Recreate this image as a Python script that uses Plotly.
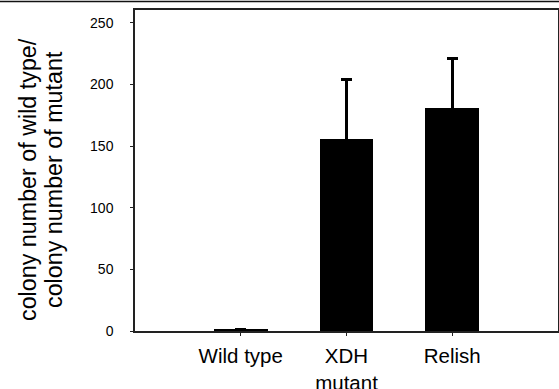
import plotly.graph_objects as go

categories = ["Wild type", "XDH<br>mutant", "Relish"]
values = [1, 156, 181]
err_plus = [0.5, 48, 40]
y_ticks = [0, 50, 100, 150, 200, 250]
title_lines = ["colony number of wild type/", "colony number of mutant"]

L, R, T, B = 135, 1, 10, 58
W, H = 559, 389
pw, ph = W - L - R, H - T - B

fig = go.Figure()
fig.add_trace(go.Bar(
    x=categories, y=values, width=0.51,
    marker=dict(color="black", line=dict(width=0)),
    error_y=dict(type="data", symmetric=True, array=err_plus,
                 color="black", thickness=3, width=5.5),
))

font_family = "Liberation Sans, Arial, sans-serif"
fig.update_layout(
    width=W, height=H,
    margin=dict(l=L, r=R, t=T, b=B, autoexpand=False),
    paper_bgcolor="white", plot_bgcolor="white",
    showlegend=False,
    font=dict(family=font_family, color="black"),
    bargap=0,
)
fig.update_xaxes(
    type="category", range=[-1, 3],
    showline=True, linecolor="#222", linewidth=1.5, mirror=True,
    ticks="outside", ticklen=3, tickcolor="#222", tickwidth=1,
    ticklabelstandoff=3,
    tickfont=dict(size=20.5, family=font_family, color="black"),
    showgrid=False, zeroline=False,
)
fig.update_yaxes(
    range=[0, 260.5], tickvals=y_ticks,
    showline=True, linecolor="#222", linewidth=1.5, mirror=True,
    ticks="outside", ticklen=3, tickcolor="#222", tickwidth=1,
    ticklabelstandoff=14,
    tickfont=dict(size=14, family=font_family, color="black"),
    showgrid=False, zeroline=False,
)
for txt, cx in zip(title_lines, [28, 54]):
    fig.add_annotation(
        text=txt, textangle=-90, showarrow=False,
        xref="paper", yref="paper",
        x=(cx - L) / pw, y=(H - B - 180) / ph,
        xanchor="center", yanchor="middle",
        font=dict(size=23.3, family=font_family, color="black"),
    )
fig.add_shape(type="line", xref="paper", yref="paper",
              x0=-L / pw, x1=1.01, y0=1 + 8.5 / ph, y1=1 + 8.5 / ph,
              line=dict(color="#111", width=1.5))

fig.write_html("out.html", config={"displayModeBar": False},
               post_script="document.body.style.margin='0';")
